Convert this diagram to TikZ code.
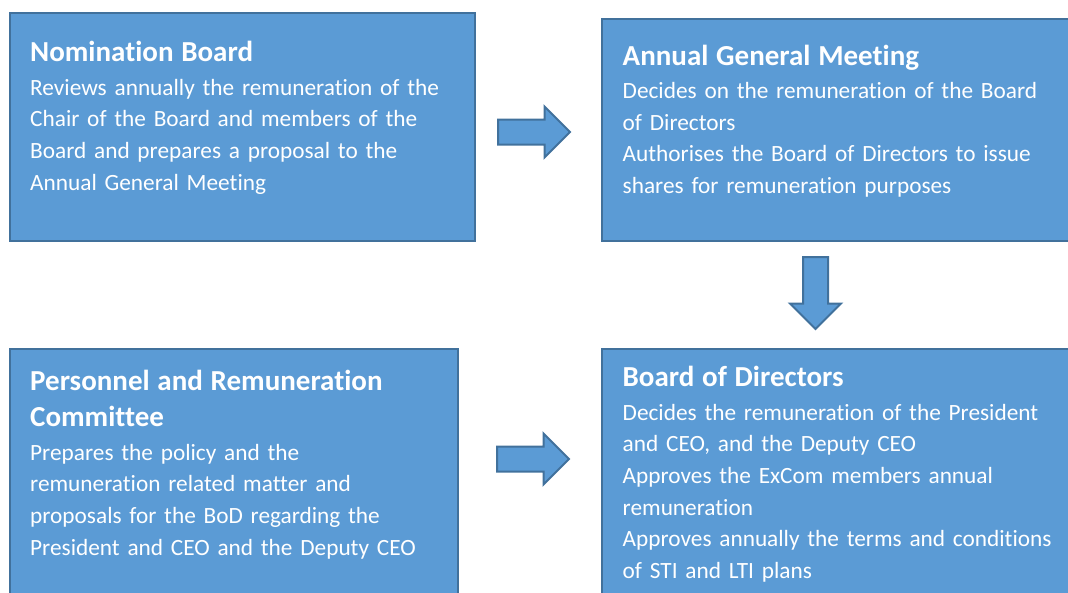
\documentclass[tikz,border=0pt]{standalone}
\usepackage{fontspec}
\setmainfont{Carlito}[Ligatures=NoCommon]
\usetikzlibrary{shapes.arrows}

\definecolor{boxblue}{RGB}{91,155,213}
\definecolor{boxedge}{RGB}{65,113,156}

\newcommand{\headfont}{\fontsize{29pt}{36.7pt}\selectfont\bfseries}

\tikzset{
  box/.style={draw=boxedge, line width=2pt, fill=boxblue, anchor=north west, inner sep=0pt, outer sep=0pt},
  boxtext/.style={anchor=base west, inner sep=0pt, text=white, text width=480pt, align=left,
    font=\fontsize{23.3pt}{31.7pt}\selectfont},
  blockarrow/.style={single arrow, draw=boxedge, line width=2pt, fill=boxblue, minimum height=72pt,
    inner xsep=0pt, inner ysep=11.5pt, single arrow head extend=13pt, single arrow head indent=0pt,
    anchor=tail, outer sep=0pt}
}

\begin{document}
\begin{tikzpicture}[x=1pt,y=-1pt]

\useasboundingbox (0,0) rectangle (1068,592);
\clip (0,0) rectangle (1068,592);

% Boxes
\node[box, minimum width=465pt, minimum height=228pt] (nb) at (10,13) {};
\node[box, minimum width=470pt, minimum height=222pt] (agm) at (602,19) {};
\node[box, minimum width=448pt, minimum height=260pt] (prc) at (10,349) {};
\node[box, minimum width=470pt, minimum height=260pt] (bod) at (602,349) {};

% Texts
\node[boxtext] (nbtext) at ([xshift=20pt,yshift=-48.7pt]nb.north west)
  {{\headfont Nomination Board}\\[1.6pt]
   Reviews annually the remuneration of the\\
   Chair of the Board and members of the\\
   Board and prepares a proposal to the\\
   Annual General Meeting};

\node[boxtext] (agmtext) at ([xshift=20.5pt,yshift=-46pt]agm.north west)
  {{\headfont Annual General Meeting}\\[1.6pt]
   Decides on the remuneration of the Board\\
   of Directors\\
   Authorises the Board of Directors to issue\\
   shares for remuneration purposes};

\node[boxtext] (prctext) at ([xshift=20pt,yshift=-41pt]prc.north west)
  {{\headfont Personnel and Remuneration}\\[5pt]
   {\headfont Committee}\\[1.6pt]
   Prepares the policy and the\\
   remuneration related matter and\\
   proposals for the BoD regarding the\\
   President and CEO and the Deputy CEO};

\node[boxtext] (bodtext) at ([xshift=20.5pt,yshift=-37.7pt]bod.north west)
  {{\headfont Board of Directors}\\[1.6pt]
   Decides the remuneration of the President\\
   and CEO, and the Deputy CEO\\
   Approves the ExCom members annual\\
   remuneration\\
   Approves annually the terms and conditions\\
   of STI and LTI plans};

% Block arrows
\node[blockarrow] (nbtoagm) at (498,132) {};
\node[blockarrow, rotate=-90] (agmtobod) at (815.5,257) {};
\node[blockarrow] (prctobod) at (497,459) {};

\end{tikzpicture}
\end{document}
